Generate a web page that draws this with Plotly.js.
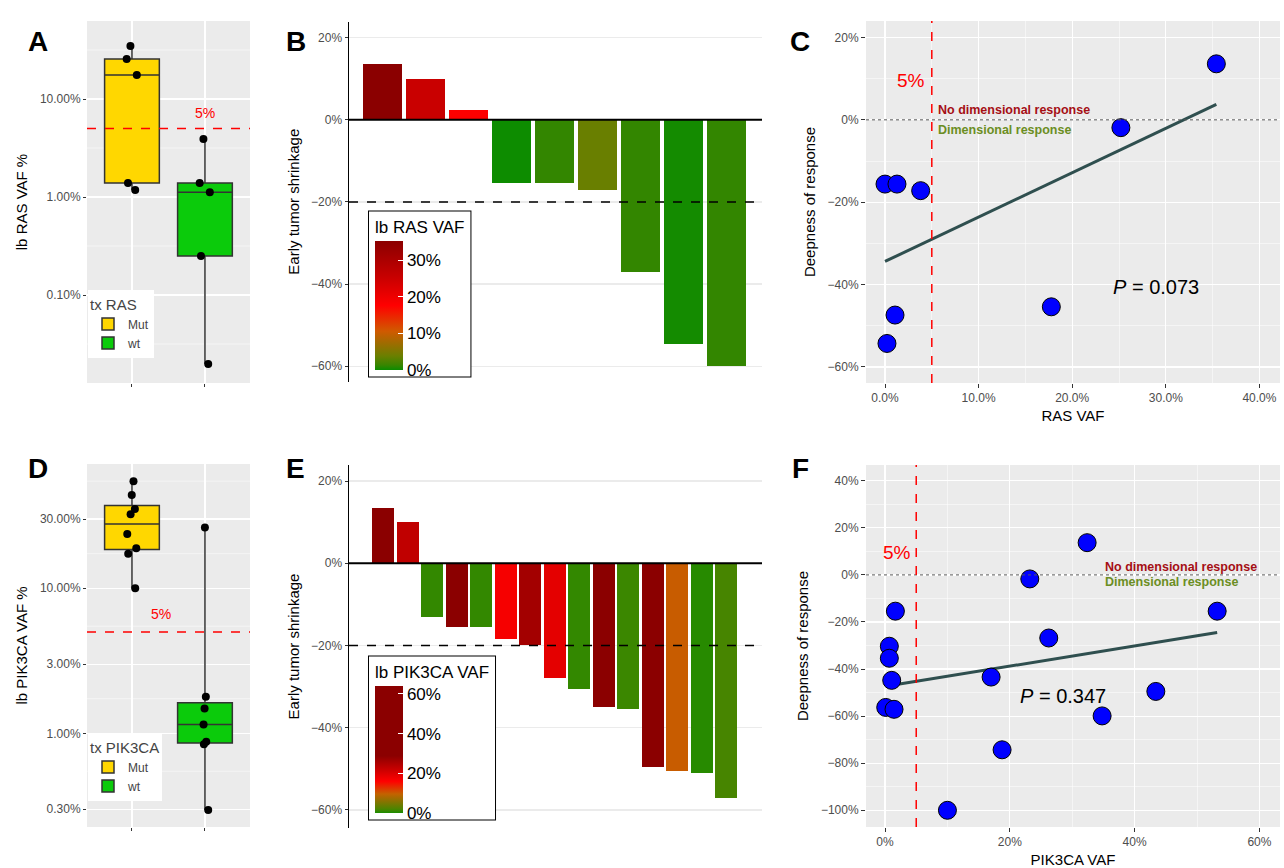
<!DOCTYPE html>
<html>
<head>
<meta charset="utf-8">
<script src="https://cdn.plot.ly/plotly-3.0.1.min.js"></script>
<style>html,body{margin:0;padding:0;background:#fff}#chart{width:1284px;height:868px}</style>
</head>
<body>
<div id="chart"></div>
<script>
// panel A/D: baseline VAF (%) per tx group
const rasMut = [34.8, 25.6, 17.6, 1.39, 1.18];
const rasWt = [3.9, 1.39, 1.12, 0.25, 0.0198];
const pikMut = [54.7, 44, 35.2, 32.4, 23.7, 18.9, 17.3, 10];
const pikWt = [26.2, 1.79, 1.48, 1.15, 0.875, 0.84, 0.296];

// log axis ticks
const rasTicks = [0.1, 1, 10];
const pikTicks = [0.3, 1, 3, 10, 30];

// panel B/E: early tumor shrinkage (%) and baseline VAF (%)
const shrinkRas = [13.5, 10, 2.5, -15.5, -15.5, -17, -37, -54.5, -60];
const vafRasBar = [35.3, 25.3, 18, 0.1, 1.2, 3.8, 1.2, 0.3, 1.2];
const shrinkPik = [13.5, 10, -13, -15.5, -15.5, -18.5, -20, -28, -30.5, -35, -35.5, -49.5, -50.5, -51, -57];
const vafPikBar = [32.4, 23, 1, 43.4, 1, 17, 26.2, 19, 1, 34.8, 1.3, 53.2, 10, 0.5, 1.8];
const shrinkTicks = [-60, -40, -20, 0, 20];

// panel C/F: VAF vs deepness of response (%)
const rasVaf = [0, 1.28, 3.81, 1.07, 0.21, 17.77, 25.2, 35.4];
const rasDeep = [-15.6, -15.6, -17.2, -47.4, -54.3, -45.4, -1.9, 13.6];
const pikVaf = [1.66, 0.69, 0.69, 1.07, 0.11, 1.44, 17.0, 10.0, 18.76, 23.2, 26.24, 32.39, 34.79, 43.4, 53.23];
const pikDeep = [-15.4, -30.3, -35.4, -44.8, -56.3, -57.1, -43.4, -100, -74.3, -1.7, -26.8, 13.7, -59.9, -49.5, -15.4];

const W = 1284, H = 868;
const dx = (a, b) => [a / W, b / W];
const dy = (top, bot) => [1 - bot / H, 1 - top / H];
const FONT = 'Liberation Sans, Arial, sans-serif';
const GOLD = '#FFD700', GREEN = '#0BCB0B';
const pct = v => (v < 0 ? '\u2212' + (-v) : v) + '%';

// quantile type 7 on log scale (ggplot with log10 axis)
function boxStats(vals) {
  const l = vals.map(v => Math.log10(v)).sort((a, b) => a - b);
  const q = p => { const h = (l.length - 1) * p, i = Math.floor(h); return l[i] + (h - i) * ((l[i + 1] ?? l[i]) - l[i]); };
  return [l[0], q(0.25), q(0.5), q(0.75), l[l.length - 1]].map(v => Math.pow(10, v));
}
function ols(x, y) {
  const n = x.length, mx = x.reduce((a, b) => a + b) / n, my = y.reduce((a, b) => a + b) / n;
  let sxy = 0, sxx = 0;
  x.forEach((v, i) => { sxy += (v - mx) * (y[i] - my); sxx += (v - mx) ** 2; });
  const b = sxy / sxx, a = my - b * mx;
  const lo = Math.min(...x), hi = Math.max(...x);
  return { x: [lo, hi], y: [a + b * lo, a + b * hi] };
}

function boxTraces(vals, pos, name, color, xa, ya, leg) {
  const s = boxStats(vals);
  return [{
    type: 'box', x: [pos], lowerfence: [s[0]], q1: [s[1]], median: [s[2]], q3: [s[3]], upperfence: [s[4]],
    name: name, width: 0.75, whiskerwidth: 0, fillcolor: color, line: { color: '#333333', width: 1.5 },
    xaxis: xa, yaxis: ya, legend: leg, showlegend: true, hoverinfo: 'skip'
  }, {
    type: 'box', y: vals, x0: pos, boxpoints: 'all', jitter: 0.35, pointpos: 0, whiskerwidth: 0,
    fillcolor: 'rgba(0,0,0,0)', line: { width: 0, color: 'rgba(0,0,0,0)' },
    marker: { color: 'black', size: 8 }, xaxis: xa, yaxis: ya, showlegend: false, hoverinfo: 'y'
  }];
}

const rasScale = [[0, '#0A8C00'], [0.04, '#3A8500'], [0.11, '#6B7F00'], [0.3, '#D05A00'], [0.5, '#FF0000'], [0.72, '#C80000'], [1, '#8B0000']];
const pikScale = [[0, '#1A8C00'], [0.03, '#4A8500'], [0.15, '#C46200'], [0.25, '#FF0000'], [0.45, '#8B0000'], [1, '#8B0000']];

function barTrace(vals, vaf, scale, cmax, ticks, title, xa, ya, cb) {
  return {
    type: 'bar', x: vals.map((_, i) => i + 1), y: vals, width: 0.9, xaxis: xa, yaxis: ya,
    marker: {
      color: vaf, colorscale: scale, cmin: 0, cmax: cmax, line: { width: 0 },
      colorbar: Object.assign({
        title: { text: title, side: 'top', font: { size: 17, family: FONT, color: 'black' } },
        tickvals: ticks, ticktext: ticks.map(t => t + '%'), ticks: 'inside', tickcolor: 'white', ticklen: 5,
        tickfont: { size: 17, family: FONT, color: 'black' }, thickness: 28, outlinewidth: 0,
        bgcolor: 'white', bordercolor: 'black', borderwidth: 1, xanchor: 'left', yanchor: 'top',
        lenmode: 'pixels', xpad: 6, ypad: 6
      }, cb)
    },
    showlegend: false, hoverinfo: 'y'
  };
}

function scatterTraces(x, y, xa, ya) {
  const f = ols(x, y);
  return [
    { type: 'scatter', mode: 'lines', x: f.x, y: f.y, line: { color: '#2F4F4F', width: 3 }, xaxis: xa, yaxis: ya, showlegend: false },
    { type: 'scatter', mode: 'markers', x: x, y: y, marker: { color: '#0000FF', size: 18, line: { color: 'black', width: 1 } }, xaxis: xa, yaxis: ya, showlegend: false }
  ];
}

const data = [
  ...boxTraces(rasMut, 0, 'Mut', GOLD, 'x', 'y', 'legend'),
  ...boxTraces(rasWt, 1, 'wt', GREEN, 'x', 'y', 'legend'),
  barTrace(shrinkRas, vafRasBar, rasScale, 35.3, [0, 10, 20, 30], 'lb RAS VAF', 'x2', 'y2', { x: 369 / W, y: 1 - 211 / H, len: 165 }),
  ...scatterTraces(rasVaf, rasDeep, 'x3', 'y3'),
  ...boxTraces(pikMut, 0, 'Mut', GOLD, 'x4', 'y4', 'legend2'),
  ...boxTraces(pikWt, 1, 'wt', GREEN, 'x4', 'y4', 'legend2'),
  barTrace(shrinkPik, vafPikBar, pikScale, 64, [0, 20, 40, 60], 'lb PIK3CA VAF', 'x5', 'y5', { x: 369 / W, y: 1 - 656 / H, len: 163 }),
  ...scatterTraces(pikVaf, pikDeep, 'x6', 'y6')
];

const tickF = { size: 12, color: '#4D4D4D', family: FONT };
const titleF = { size: 15, color: 'black', family: FONT };
const gray = '#EBEBEB';

function boxX(anchor) {
  return { domain: dx(87, 250), anchor: anchor, range: [-0.616, 1.617], tickvals: [0, 1], showticklabels: false,
    gridcolor: 'white', gridwidth: 1.2, zeroline: false, ticks: 'outside', ticklen: 3, tickcolor: '#333' };
}
function logY(anchor, top, bot, range, vals, title) {
  return { domain: dy(top, bot), anchor: anchor, type: 'log', range: range, tickvals: vals,
    ticktext: vals.map(v => v.toFixed(2) + '%'),
    tickfont: tickF, gridcolor: 'white', gridwidth: 1.2, zeroline: false, ticks: 'outside', ticklen: 3, tickcolor: '#333',
    title: { text: title, font: titleF, standoff: 8 } };
}
function barX(anchor, range) {
  return { domain: dx(349, 762), anchor: anchor, range: range, visible: false };
}
function barY(anchor, top, bot, range) {
  return { domain: dy(top, bot), anchor: anchor, range: range, tickvals: shrinkTicks, ticktext: shrinkTicks.map(pct),
    tickfont: tickF, gridcolor: gray, gridwidth: 1.2, zeroline: false, showline: true, linecolor: 'black', linewidth: 1.5,
    ticks: 'outside', ticklen: 3, tickcolor: '#333', title: { text: 'Early tumor shrinkage', font: titleF, standoff: 8 } };
}
function scX(anchor, range, dt, fmt, title) {
  return { domain: dx(866, 1280), anchor: anchor, range: range, dtick: dt, tickformat: fmt, ticksuffix: '%',
    tickfont: tickF, gridcolor: 'white', gridwidth: 1.2, zeroline: false, ticks: 'outside', ticklen: 4, tickcolor: '#333',
    minor: { dtick: dt / 2, showgrid: true, gridcolor: 'white', gridwidth: 0.5 },
    title: { text: title, font: titleF, standoff: 6 } };
}
function scY(anchor, top, bot, range) {
  return { domain: dy(top, bot), anchor: anchor, range: range, dtick: 20, ticksuffix: '%',
    tickfont: tickF, gridcolor: 'white', gridwidth: 1.2, zeroline: false, ticks: 'outside', ticklen: 4, tickcolor: '#333',
    minor: { dtick: 10, showgrid: true, gridcolor: 'white', gridwidth: 0.5 },
    title: { text: 'Deepness of response', font: titleF, standoff: 8 } };
}

const bg = (xr, yr) => ({ type: 'rect', xref: 'paper', yref: 'paper', x0: xr[0], x1: xr[1], y0: yr[0], y1: yr[1], fillcolor: gray, line: { width: 0 }, layer: 'below' });
const hline = (xa, ya, y, color, width, dash, layer) => ({ type: 'line', xref: xa + ' domain', yref: ya, x0: 0, x1: 1, y0: y, y1: y, line: { color, width, dash }, layer: layer || 'above' });
const vline = (xa, ya, x, color, width, dash) => ({ type: 'line', xref: xa, yref: ya + ' domain', x0: x, x1: x, y0: 0, y1: 1, line: { color, width, dash } });
// geometric midpoints between log ticks, as ggplot minor breaks
const minorLog = (ticks, xa, ya) => {
  const r = ticks[1] / ticks[0], ext = [ticks[0] / r, ...ticks, ticks[ticks.length - 1] * r];
  const out = [];
  for (let i = 0; i < ext.length - 1; i++) out.push(hline(xa, ya, Math.sqrt(ext[i] * ext[i + 1]), 'white', 0.5, 'solid', 'below'));
  return out;
};

const letter = (t, x, y) => ({ text: '<b>' + t + '</b>', x: x / W, y: 1 - y / H, xref: 'paper', yref: 'paper', showarrow: false, font: { size: 28, family: FONT, color: 'black' } });
const txt = (t, xa, ya, x, y, size, color, anchor, bold) => ({ text: bold ? '<b>' + t + '</b>' : t, xref: xa, yref: ya, x, y, xanchor: anchor, showarrow: false, font: { size, color, family: FONT } });

const layout = {
  width: W, height: H, margin: { l: 0, r: 0, t: 0, b: 0 }, paper_bgcolor: 'white', plot_bgcolor: 'rgba(0,0,0,0)',
  boxmode: 'overlay', bargap: 0, font: { family: FONT },
  xaxis: boxX('y'), yaxis: logY('x', 21, 383, [-1.898, 1.796], rasTicks, 'lb RAS VAF %'),
  xaxis2: barX('y2', [0.22, 9.82]), yaxis2: barY('x2', 21.7, 381.7, [-63.8, 23.9]),
  xaxis3: scX('y3', [-2.03, 42.2], 10, '.1f', 'RAS VAF'), yaxis3: scY('x3', 21, 383, [-63.9, 24]),
  xaxis4: boxX('y4'), yaxis4: logY('x4', 464, 827, [-0.646, 1.857], pikTicks, 'lb PIK3CA VAF %'),
  xaxis5: barX('y5', [-0.4, 16.45]), yaxis5: barY('x5', 465, 828, [-64.4, 23.9]),
  xaxis6: scX('y6', [-3.05, 63.3], 20, '.0f', 'PIK3CA VAF'), yaxis6: scY('x6', 465, 827, [-107.1, 46.7]),
  legend: { x: 88 / W, y: 1 - 290 / H, xanchor: 'left', yanchor: 'top', bgcolor: 'white', title: { text: 'tx RAS', font: { size: 15, family: FONT } }, font: { size: 12, family: FONT }, itemwidth: 30 },
  legend2: { x: 88 / W, y: 1 - 733 / H, xanchor: 'left', yanchor: 'top', bgcolor: 'white', title: { text: 'tx PIK3CA', font: { size: 15, family: FONT } }, font: { size: 12, family: FONT }, itemwidth: 30 },
  shapes: [
    bg(dx(87, 250), dy(21, 383)), bg(dx(866, 1280), dy(21, 383)),
    bg(dx(87, 250), dy(464, 827)), bg(dx(866, 1280), dy(465, 827)),
    ...minorLog(rasTicks, 'x', 'y'), ...minorLog(pikTicks, 'x4', 'y4'),
    hline('x', 'y', 5, '#FF0000', 1.5, 'dash'), hline('x4', 'y4', 5, '#FF0000', 1.5, 'dash'),
    hline('x2', 'y2', 0, 'black', 2, 'solid'), hline('x2', 'y2', -20, 'black', 1.5, 'dash'),
    hline('x5', 'y5', 0, 'black', 2, 'solid'), hline('x5', 'y5', -20, 'black', 1.5, 'dash'),
    hline('x3', 'y3', 0, '#555', 1, 'dot'), vline('x3', 'y3', 5, '#FF0000', 1.5, 'dash'),
    hline('x6', 'y6', 0, '#555', 1, 'dot'), vline('x6', 'y6', 5, '#FF0000', 1.5, 'dash')
  ],
  annotations: [
    letter('A', 26, 24), letter('B', 284, 24), letter('C', 800, 24),
    letter('D', 26, 468), letter('E', 284, 468), letter('F', 800, 468),
    txt('5%', 'x', 'y', 1, Math.log10(7.2), 14, '#FF0000', 'center'),
    txt('5%', 'x4', 'y4', 0.4, Math.log10(6.6), 14, '#FF0000', 'center'),
    txt('5%', 'x3', 'y3', 4.5, 9.5, 19, '#FF0000', 'right'),
    txt('No dimensional response', 'x3', 'y3', 5.5, 2.5, 12.5, '#A50F15', 'left', true),
    txt('Dimensional response', 'x3', 'y3', 5.5, -2.5, 12.5, '#6B8E23', 'left', true),
    txt('<i>P</i> = 0.073', 'x3', 'y3', 29, -40.5, 20, 'black', 'center'),
    txt('5%', 'x6', 'y6', 4.5, 9.5, 19, '#FF0000', 'right'),
    txt('No dimensional response', 'x6', 'y6', 35, 3.5, 12.5, '#A50F15', 'left', true),
    txt('Dimensional response', 'x6', 'y6', 35, -3.2, 12.5, '#6B8E23', 'left', true),
    txt('<i>P</i> = 0.347', 'x6', 'y6', 28.5, -51.5, 20, 'black', 'center')
  ]
};

Plotly.newPlot('chart', data, layout, { displayModeBar: false, staticPlot: true });
</script>
</body>
</html>
